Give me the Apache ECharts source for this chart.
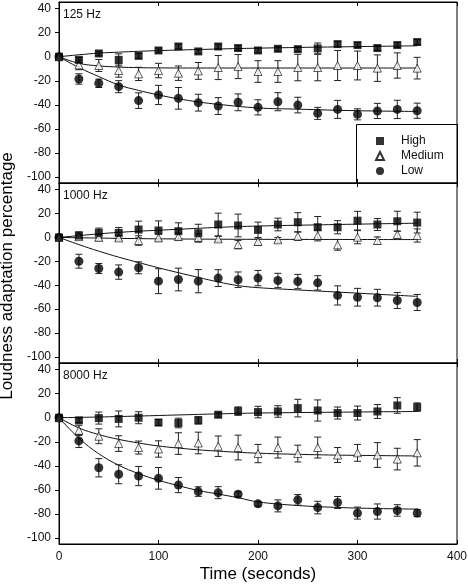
<!DOCTYPE html>
<html><head><meta charset="utf-8">
<script src="https://cdn.jsdelivr.net/npm/echarts@6/dist/echarts.min.js"></script>
<style>html,body{margin:0;padding:0;background:#fff}#c{width:468px;height:586px}</style>
</head><body><div id="c"></div>
<script>
// ---- data ----
const times = [0,20,40,60,80,100,120,140,160,180,200,220,240,260,280,300,320,340,360];
const panelLabels = ['125 Hz','1000 Hz','8000 Hz'];
const seriesNames = ['High','Medium','Low'];
const xTicks = [0,100,200,300,400];
const yTicks = [-100,-80,-60,-40,-20,0,20,40];

const high125 = [0,-2.6,2.7,-2.6,0.7,5.2,8.5,4.4,8.5,7.2,5.2,6.6,6.3,6.9,10.5,9.7,7.2,9.7,12.2];
const high125Err = [0,2,2,5,2,2,2,2,2,2,2,2,2,4.5,2,2,2,2,2];
const med125 = [0,-6.8,-7.3,-11.5,-14.3,-11.5,-13.7,-11.8,-9,-8.2,-12.3,-12.3,-9,-9,-7.3,-7.3,-9.5,-7.3,-9.5];
const med125Err = [0,4,5,5.5,5.5,6,6,7,10,10,9,9,11,11,12.5,12,11,10.5,9];
const low125 = [0,-18.5,-22.1,-24.9,-36.5,-31.8,-34.6,-38.2,-41,-37.9,-42.1,-37.4,-40.2,-47.1,-43.8,-47.9,-45.1,-43.8,-44.9];
const low125Err = [0,4.3,3.5,5,6.5,8,9,7,7,7,6.3,7.5,6.5,5,7.5,4.6,6.3,7.6,6.3];

const high1000 = [0,1.6,3.8,3.8,6.6,5.8,5.2,3.5,10.8,10,6.3,10.8,12.7,8.5,8.5,14,10.8,13.5,12.4];
const high1000Err = [0,3,4,4.5,7,8,7,7.5,9.5,9.5,6.5,5.3,8,9,5.5,7.8,5,8.4,8.7];
const med1000 = [0,0.7,0,-0.4,-2.6,-0.4,0.7,0,-1.2,-6,-3.4,-2,1,1.6,-6.2,0.2,-2.6,2.4,1.6];
const med1000Err = [0,2,2.5,2,4,3,3,3,2,3.5,3,2,3.5,4.5,4.5,5.5,3,3,5.5];
const low1000 = [0,-19.9,-26,-29,-25.4,-36.6,-35.2,-36.6,-34,-35.4,-34,-36,-36.9,-38,-48.5,-50,-50.4,-52.7,-54.4];
const low1000Err = [0,5.8,4.2,6,5,10.4,9.5,9.7,7,6.5,6.4,6,6,6,8,7.4,7,6.7,6.7];

const high8000 = [0,-2.2,-0.3,-1,0,-4,-4.4,-2.2,2.5,5.5,4.7,5.2,8,6,3.9,3.9,5.2,10.2,8.8];
const high8000Err = [0,2,5,6.6,5,2.5,4,3,2,3.5,4.8,4.8,7.3,8.8,5,5.8,5.8,6.5,3.5];
const med8000 = [0,-10.5,-15.4,-21.5,-24.8,-26,-21.5,-21,-23.7,-24.8,-29.8,-24.8,-29.8,-24.8,-31,-29.2,-31,-34.4,-29.2];
const med8000Err = [0,4.2,6.2,6.5,5.4,6.8,9,9,8.5,10.3,7.6,8.7,7,8.7,6.2,7,10.3,9,11];
const low8000 = [0,-19.3,-41.6,-47,-48.5,-50.4,-56,-61.4,-62.3,-63.6,-71.6,-73.3,-68.3,-74.7,-70.5,-79.3,-78,-77.1,-79.3];
const low8000Err = [0,5.5,7.6,7.9,8,9,6.3,4,5,2,2,5,4.4,5.2,5,5,6.3,4.8,3];

// fitted curves
const fit125HighT = [0,20,40,60,80,100,140,180,240,300,360];
const fit125HighV = [0,1.6,3,3.8,4.5,5.1,6,6.8,7.7,8.4,9.1];
const fit125MedT = [0,20,40,60,80,100,140,200,360];
const fit125MedV = [0,-5.5,-7.6,-8.6,-9.1,-9.3,-9.4,-9.4,-9.4];
const fit125LowT = [0,20,40,60,80,100,120,140,160,200,240,300,360];
const fit125LowV = [0,-9,-16.5,-23.5,-28,-31.8,-35,-37.6,-39.6,-42.6,-43.6,-44.9,-45.5];

const fit1000HighT = [0,20,40,60,80,100,120,160,200,260,300,360];
const fit1000HighV = [0,1.5,3,4.2,5.2,6,6.8,8.4,9.5,10.5,11.1,11.9];
const fit1000MedT = [0,60,120,200,360];
const fit1000MedV = [0,-0.8,-1.3,-1.6,-1.8];
const fit1000LowT = [0,20,40,60,80,100,120,140,160,180,200,240,300,360];
const fit1000LowV = [0,-6,-11.5,-16.5,-21,-25.4,-29.5,-33.4,-37.2,-40.3,-42,-43.9,-46.6,-49.3];

const fit8000HighT = [0,40,80,120,160,200,280,360];
const fit8000HighV = [0,0.6,1.4,2.3,3.2,3.9,4.6,5.2];
const fit8000MedT = [0,20,40,60,80,100,130,160,200,260,300,360];
const fit8000MedV = [0,-8.5,-14,-18,-21,-23.5,-26,-27.8,-29.5,-30.8,-31.3,-31.8];
const fit8000LowT = [0,20,40,60,80,100,120,140,160,180,200,240,280,320,360];
const fit8000LowV = [0,-17,-30,-39.5,-46.5,-52,-56.5,-60.5,-63.5,-66.5,-70,-73,-74.6,-75.5,-76];

// ---- build ----
const panels = [
  {vals:[high125,med125,low125], errs:[high125Err,med125Err,low125Err],
   fits:[[fit125HighT,fit125HighV],[fit125MedT,fit125MedV],[fit125LowT,fit125LowV]]},
  {vals:[high1000,med1000,low1000], errs:[high1000Err,med1000Err,low1000Err],
   fits:[[fit1000HighT,fit1000HighV],[fit1000MedT,fit1000MedV],[fit1000LowT,fit1000LowV]]},
  {vals:[high8000,med8000,low8000], errs:[high8000Err,med8000Err,low8000Err],
   fits:[[fit8000HighT,fit8000HighV],[fit8000MedT,fit8000MedV],[fit8000LowT,fit8000LowV]]}
];

const FONT = 'Liberation Sans, Arial, sans-serif';
const gridTops = [2,183,363];
const gridHeights = [181,180,181];

const grid = gridTops.map((t,i)=>({left:59,right:11,top:t,height:gridHeights[i],show:true,
  outerBoundsMode:'none',containLabel:false,
  borderColor:'#000',borderWidth:1,backgroundColor:'transparent'}));

const xAxis = [];
for (let i=0;i<3;i++){
  xAxis.push({gridIndex:i,type:'value',position:'bottom',min:0,max:400,interval:100,
    axisLine:{show:true,onZero:false,lineStyle:{color:'#000',width:1}},
    axisTick:{show:true,inside:true,length:4,lineStyle:{color:'#000'}},
    axisLabel:{show:i===2,color:'#111',fontSize:12,fontFamily:FONT,margin:7},
    splitLine:{show:false},
    name:i===2?'Time (seconds)':'',nameLocation:'middle',nameGap:22,
    nameTextStyle:{fontSize:17,fontFamily:FONT,color:'#000'}});
}
for (let i=0;i<3;i++){
  xAxis.push({gridIndex:i,type:'value',position:'top',min:0,max:400,interval:100,
    axisLine:{show:true,onZero:false,lineStyle:{color:'#000',width:1}},
    axisTick:{show:true,inside:true,length:4,lineStyle:{color:'#000'}},
    axisLabel:{show:false},splitLine:{show:false}});
}
const yAxis = [];
for (let i=0;i<3;i++){
  yAxis.push({gridIndex:i,type:'value',min:-105,max:45.5,position:'left',
    axisLine:{show:true,onZero:false,lineStyle:{color:'#000',width:1}},
    axisTick:{show:true,inside:false,length:4,customValues:yTicks,lineStyle:{color:'#000'}},
    axisLabel:{show:true,customValues:yTicks,color:'#111',fontSize:12,fontFamily:FONT,margin:8},
    splitLine:{show:false},
    name:i===1?'Loudness adaptation percentage':'',nameLocation:'middle',nameGap:38,
    nameTextStyle:{fontSize:17,fontFamily:FONT,color:'#000',padding:[0,0,0,-6]}});
}

function errRender(params, api){
  const x = api.value(0), v = api.value(1), e = api.value(2);
  if (!e) return null;
  const t = api.coord([x, v+e]);
  const b = api.coord([x, v-e]);
  const hw = 3.5;
  const st = {stroke:'#222',lineWidth:1};
  return {type:'group',children:[
    {type:'line',shape:{x1:t[0],y1:t[1],x2:b[0],y2:b[1]},style:st},
    {type:'line',shape:{x1:t[0]-hw,y1:t[1],x2:t[0]+hw,y2:t[1]},style:st},
    {type:'line',shape:{x1:b[0]-hw,y1:b[1],x2:b[0]+hw,y2:b[1]},style:st}
  ]};
}

const symbolDefs = [
  {symbol:'rect',size:8,itemStyle:{color:'#000'}},
  {symbol:'triangle',size:8,itemStyle:{color:'#fff',borderColor:'#000',borderWidth:0.8}},
  {symbol:'circle',size:9,itemStyle:{color:'#000'}}
];

const series = [];
panels.forEach((p,pi)=>{
  p.fits.forEach((f,si)=>{
    series.push({type:'line',name:'fit'+pi+'_'+si,xAxisIndex:pi,yAxisIndex:pi,
      data:f[0].map((t,k)=>[t,f[1][k]]),smooth:0.4,showSymbol:false,silent:true,z:2,
      lineStyle:{color:'#111',width:1}});
  });
  p.vals.forEach((vals,si)=>{
    series.push({type:'custom',name:'err'+pi+'_'+si,xAxisIndex:pi,yAxisIndex:pi,z:3,silent:true,
      renderItem:errRender,encode:{x:0,y:1},
      data:times.map((t,k)=>[t,vals[k],p.errs[si][k]])});
  });
  [2,1,0].forEach(si=>{
    const d = symbolDefs[si];
    series.push({type:'scatter',name:seriesNames[si],xAxisIndex:pi,yAxisIndex:pi,z:5+ (2-si),
      symbol:d.symbol,symbolSize:d.size,itemStyle:d.itemStyle,
      data:times.map((t,k)=>[t,p.vals[si][k]])});
  });
});

const option = {
  animation:false,
  backgroundColor:'#fff',
  textStyle:{fontFamily:FONT},
  grid, xAxis, yAxis, series,
  legend:{data:seriesNames,orient:'vertical',left:370,top:130,itemWidth:8,itemHeight:8,itemGap:3,
    textStyle:{fontSize:12,fontFamily:FONT,color:'#111',padding:[0,0,0,12],lineHeight:12},selectedMode:false},
  graphic:[
    {type:'rect',shape:{x:356.5,y:124.5,width:101,height:59},style:{fill:'none',stroke:'#000',lineWidth:1},z:10,silent:true},
    ...panelLabels.map((lab,i)=>({type:'text',left:63,top:gridTops[i]+7,
      style:{text:lab,fontSize:12,fontFamily:FONT,fill:'#111'},silent:true}))
  ]
};
const chart = echarts.init(document.getElementById('c'),null,{renderer:'canvas'});
chart.setOption(option);
</script></body></html>
